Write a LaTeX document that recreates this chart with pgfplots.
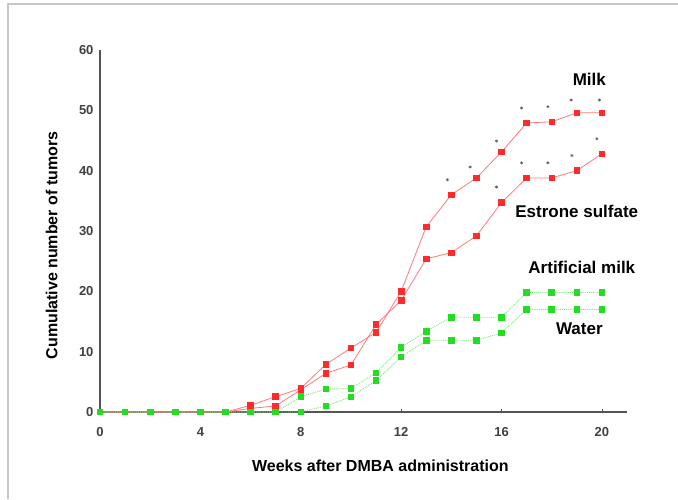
\documentclass[border=0pt]{standalone}
\usepackage{pgfplots}
\pgfplotsset{compat=1.18}
\usepackage{fontspec}
\setmainfont{Liberation Sans}
\definecolor{redmark}{HTML}{FF2A2A}
\definecolor{redline}{HTML}{FF7A7A}
\definecolor{greenmark}{HTML}{22DD22}
\definecolor{greenline}{HTML}{77E877}
\definecolor{axgray}{HTML}{555555}
\begin{document}
\begin{tikzpicture}[x=1pt,y=1pt]
\useasboundingbox (0,0) rectangle (678,499);
\draw[black!22, line width=2pt] (8,0) -- (8,495) -- (678,495);
\begin{axis}[
  at={(100pt,87pt)}, anchor=south west,
  scale only axis, width=527pt, height=362pt,
  xmin=0, xmax=21, ymin=0, ymax=60,
  axis lines*=left,
  axis line style={axgray, line width=1.8pt},
  clip=false,
  xtick={0,4,8,12,16,20}, ytick={0,10,20,30,40,50,60},
  major tick length=3pt,
  tick style={axgray, line width=0.8pt},
  tick align=inside,
  ytick style={draw=none},
  /pgf/number format/assume math mode=true,
  ticklabel style={font=\fontsize{13}{15}\selectfont\bfseries, text=black!75},
  xticklabel style={yshift=-12pt},
  yticklabel style={xshift=-3pt},
  xlabel={Weeks after DMBA administration},
  ylabel={Cumulative number of tumors},
  label style={font=\fontsize{16}{18}\selectfont\bfseries},
  xlabel style={at={(axis description cs:0.532,0)}, anchor=north, yshift=-44pt},
  ylabel style={at={(axis description cs:0,0.46)}, anchor=south, yshift=39pt},
]
% Milk
\addplot[redline, line width=0.8pt, mark=square*, mark size=2.8pt,
  mark options={draw=redmark, fill=redmark}] coordinates {
(0,0)(1,0)(2,0)(3,0)(4,0)(5,0)(6,1.1)(7,2.55)(8,3.9)(9,7.9)(10,10.6)(11,13.2)(12,20)
(13,30.7)(14,36)(15,38.8)(16,43.1)(17,47.9)(18,48.1)(19,49.6)(20,49.6)};
% Estrone sulfate
\addplot[redline, line width=0.8pt, mark=square*, mark size=2.8pt,
  mark options={draw=redmark, fill=redmark}] coordinates {
(0,0)(1,0)(2,0)(3,0)(4,0)(5,0)(6,0.6)(7,1.0)(8,3.7)(9,6.4)(10,7.8)(11,14.5)(12,18.5)
(13,25.4)(14,26.4)(15,29.2)(16,34.7)(17,38.8)(18,38.8)(19,40)(20,42.8)};
% Artificial milk
\addplot[greenline, line width=0.9pt, densely dotted, mark=square*, mark size=2.8pt,
  mark options={solid, draw=greenmark, fill=greenmark}] coordinates {
(0,0)(1,0)(2,0)(3,0)(4,0)(5,0)(6,0)(7,0)(8,2.55)(9,3.8)(10,3.9)(11,6.5)(12,10.7)
(13,13.4)(14,15.7)(15,15.7)(16,15.7)(17,19.8)(18,19.8)(19,19.8)(20,19.8)};
% Water
\addplot[greenline, line width=0.9pt, densely dotted, mark=square*, mark size=2.8pt,
  mark options={solid, draw=greenmark, fill=greenmark}] coordinates {
(0,0)(1,0)(2,0)(3,0)(4,0)(5,0)(6,0)(7,0)(8,0)(9,1.0)(10,2.5)(11,5.2)(12,9.1)
(13,11.9)(14,11.9)(15,11.9)(16,13.1)(17,17)(18,17)(19,17)(20,17)};
% significance asterisks
\addplot[only marks, mark=asterisk, mark size=1.6pt, black!65, line width=0.5pt] coordinates {
(13.84,38.5)(14.75,40.6)(15.8,44.9)(16.8,50.4)(17.85,50.6)(18.77,51.7)(19.9,51.7)
(15.8,37.3)(16.8,41.3)(17.85,41.3)(18.8,42.5)(19.8,45.3)};
\begin{scope}[every node/.style={font=\fontsize{17}{19}\selectfont\bfseries}]
\node at (axis cs:19.5,55.1) {Milk};
\node at (axis cs:19.0,33.2) {Estrone sulfate};
\node at (axis cs:19.2,23.9) {Artificial milk};
\node at (axis cs:19.1,13.8) {Water};
\end{scope}
\end{axis}
\end{tikzpicture}
\end{document}
